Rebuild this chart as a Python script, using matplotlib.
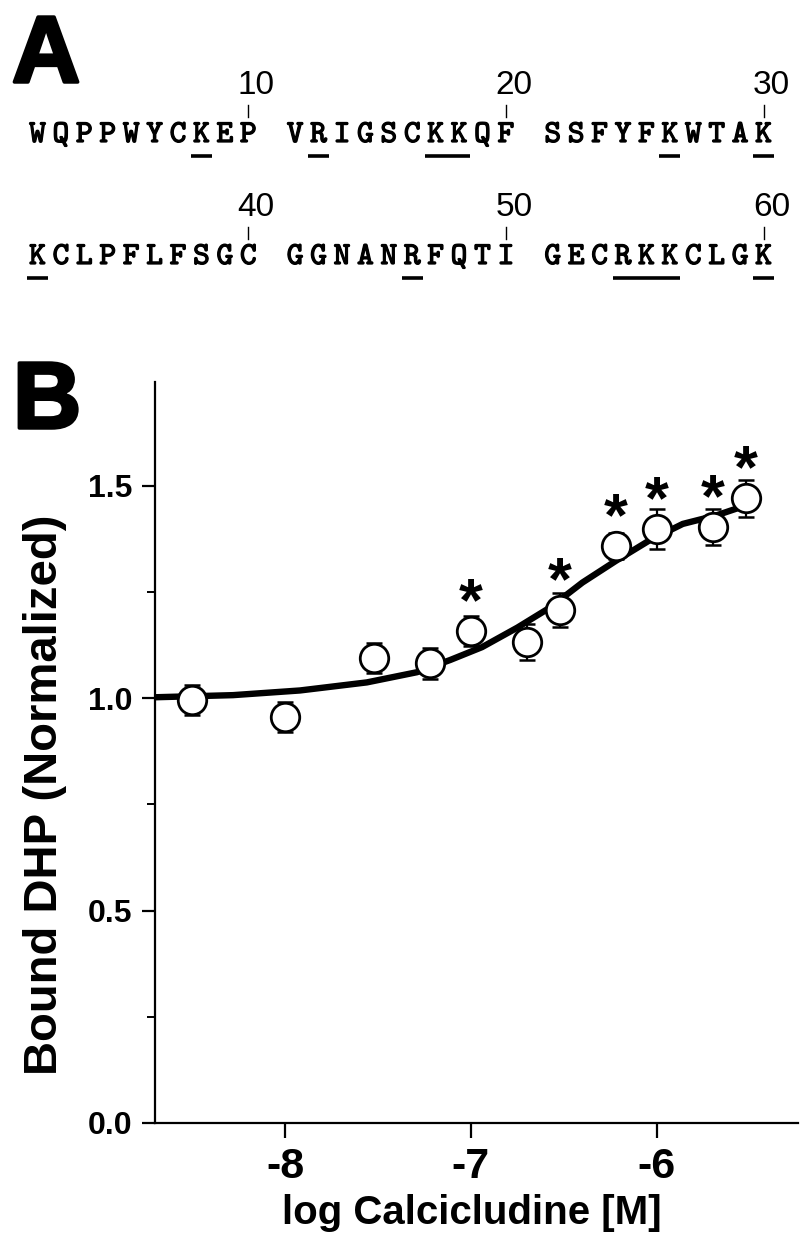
import matplotlib
matplotlib.use("Agg")
import matplotlib.pyplot as plt
import matplotlib.patheffects as pe
from matplotlib.lines import Line2D
from matplotlib.ticker import FixedLocator

plt.rcParams['font.family'] = ['Liberation Sans', 'DejaVu Sans']
plt.rcParams['font.weight'] = 'bold'
plt.rcParams['axes.unicode_minus'] = False

# ── panel A: calcicludine sequence ──
seq_lines = ["WQPPWYCKEP VRIGSCKKQF SSFYFKWTAK",
             "KCLPFLFSGC GGNANRFQTI GECRKKCLGK"]
marked_residues = [8, 12, 17, 18, 26, 30, 31, 46, 54, 55, 56, 60]
numbered_residues = [10, 20, 30, 40, 50, 60]

# ── panel B: DHP binding vs calcicludine ──
log_conc = [-8.5, -8.0, -7.52, -7.22, -7.0, -6.7, -6.52, -6.22, -6.0, -5.7, -5.52]
bound = [0.995, 0.955, 1.094, 1.082, 1.158, 1.132, 1.207, 1.358, 1.398, 1.402, 1.47]
bound_err = [0.035, 0.035, 0.036, 0.036, 0.035, 0.043, 0.04, 0.03, 0.048, 0.042, 0.043]
significant = [False, False, False, False, True, False, True, True, True, True, True]

# fitted curve
fit_x = [-8.70, -8.28, -7.92, -7.56, -7.29, -7.11, -6.94, -6.75, -6.575,
         -6.40, -6.22, -6.04, -5.86, -5.68, -5.53]
fit_y = [1.002, 1.007, 1.018, 1.037, 1.061, 1.09, 1.12, 1.166, 1.213,
         1.272, 1.323, 1.371, 1.41, 1.43, 1.452]

x_ticks = [-8, -7, -6]
y_ticks = [0.0, 0.5, 1.0, 1.5]
y_minor = [0.25, 0.75, 1.25]

W, H = 800, 1255
fig = plt.figure(figsize=(W / 100, H / 100), dpi=100)


def fx(px):
    return px / W


def fy(py):
    return 1 - py / H


# sequence layout (pixels)
x0, step = 37.5, 23.42
baselines = [142, 264]


def res_pos(n):
    line, k = divmod(n - 1, 30)
    i = k + k // 10
    return x0 + i * step, baselines[line]


# typewriter letters, thickened a little to look like courier bold
mono_bold = [pe.withStroke(linewidth=0.9, foreground="black")]
for line, text in enumerate(seq_lines):
    for i, ch in enumerate(text):
        if ch == " ":
            continue
        fig.text(fx(x0 + i * step), fy(baselines[line]), ch, family="cmtt10",
                 weight="normal", fontsize=23, ha="center", va="baseline",
                 path_effects=mono_bold)

# underline runs of basic residues
runs = []
for n in marked_residues:
    if runs and n == runs[-1][-1] + 1 and (n - 1) // 30 == (runs[-1][-1] - 1) // 30:
        runs[-1].append(n)
    else:
        runs.append([n])
for run in runs:
    xa, yb = res_pos(run[0])
    xb, _ = res_pos(run[-1])
    fig.add_artist(Line2D([fx(xa - 10.5), fx(xb + 10.5)], [fy(yb + 14)] * 2,
                          transform=fig.transFigure, color="black", lw=2.6,
                          solid_capstyle="butt"))

# residue numbers
for n in numbered_residues:
    xc, yb = res_pos(n)
    fig.add_artist(Line2D([fx(xc), fx(xc)], [fy(yb - 37), fy(yb - 25)],
                          transform=fig.transFigure, color="black", lw=1.0))
    fig.text(fx(xc + 8), fy(yb - 48), str(n), fontsize=24, weight="normal",
             ha="center", va="baseline")

thick = [pe.withStroke(linewidth=2.5, foreground="black")]
fig.text(fx(12), fy(82), "A", fontsize=68, weight="bold", ha="left", va="baseline",
         path_effects=thick)
fig.text(fx(13), fy(428), "B", fontsize=68, weight="bold", ha="left", va="baseline",
         path_effects=thick)

# ── plot ──
ax = fig.add_axes([fx(155), fy(1123), (798 - 155) / W, (1123 - 382) / H])
ax.errorbar(log_conc, bound, yerr=bound_err, fmt="none", ecolor="black",
            elinewidth=1.6, capsize=6, capthick=1.8, zorder=1)
ax.plot(fit_x, fit_y, color="black", lw=4.6, solid_joinstyle="round",
        solid_capstyle="round", zorder=2)
ax.plot(log_conc, bound, "o", ms=20.5, mfc="white", mec="black", mew=2, zorder=3)
for x, y, s in zip(log_conc, bound, significant):
    if s:
        ax.annotate("*", (x, y), xytext=(0, 8), textcoords="offset points",
                    ha="center", va="baseline", fontsize=44, weight="bold")

ax.set_xlim(-8.7, -5.24)
ax.set_ylim(0, 1.744)
ax.spines[["top", "right"]].set_visible(False)
for sp in ["left", "bottom"]:
    ax.spines[sp].set_linewidth(1.6)
ax.set_xticks(x_ticks)
ax.set_xticklabels([str(t) for t in x_ticks])
ax.yaxis.set_major_locator(FixedLocator(y_ticks))
ax.yaxis.set_minor_locator(FixedLocator(y_minor))
ax.yaxis.set_major_formatter("{x:.1f}")
ax.tick_params(axis="x", direction="out", length=10.5, width=1.6, labelsize=31, pad=7)
ax.tick_params(axis="y", which="major", direction="out", length=9.5, width=1.6,
               labelsize=23, pad=7)
ax.tick_params(axis="y", which="minor", direction="out", length=6, width=1.4)

fig.text(fx(45), fy(795), "Bound DHP (Normalized)", rotation=90, fontsize=34,
         weight="bold", ha="center", va="center")
fig.text(fx(472), fy(1224), "log Calcicludine [M]", fontsize=29, weight="bold",
         ha="center", va="baseline")

fig.savefig("out.png", dpi=100)
